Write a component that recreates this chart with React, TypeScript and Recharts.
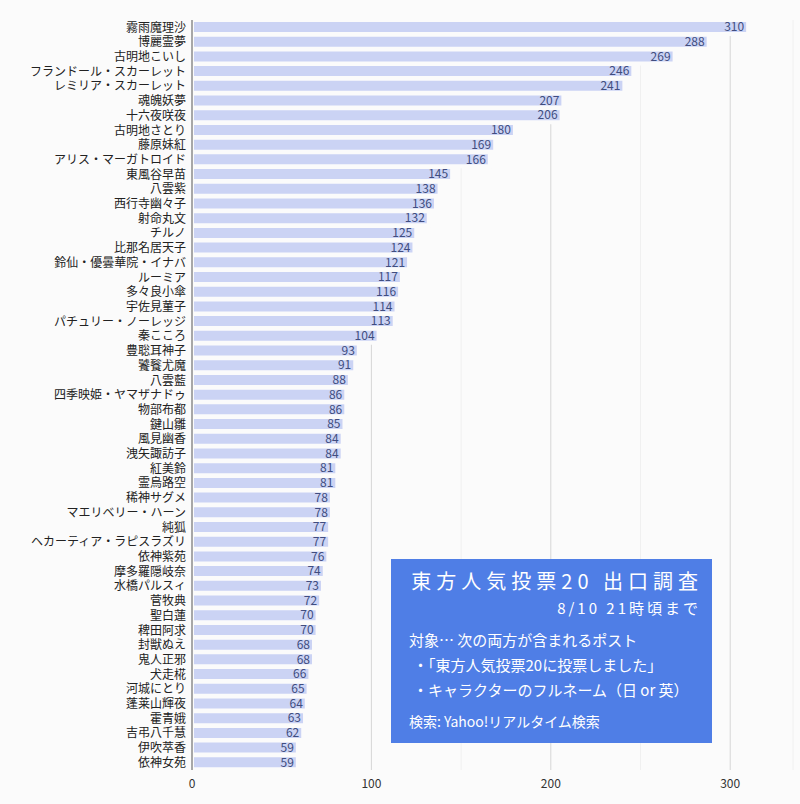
import React from 'react';
import { BarChart, Bar, XAxis, YAxis, CartesianGrid, LabelList } from 'recharts';

const names = [
  '霧雨魔理沙', '博麗霊夢', '古明地こいし', 'フランドール・スカーレット', 'レミリア・スカーレット',
  '魂魄妖夢', '十六夜咲夜', '古明地さとり', '藤原妹紅', 'アリス・マーガトロイド',
  '東風谷早苗', '八雲紫', '西行寺幽々子', '射命丸文', 'チルノ',
  '比那名居天子', '鈴仙・優曇華院・イナバ', 'ルーミア', '多々良小傘', '宇佐見菫子',
  'パチュリー・ノーレッジ', '秦こころ', '豊聡耳神子', '饕餮尤魔', '八雲藍',
  '四季映姫・ヤマザナドゥ', '物部布都', '鍵山雛', '風見幽香', '洩矢諏訪子',
  '紅美鈴', '霊烏路空', '稀神サグメ', 'マエリベリー・ハーン', '純狐',
  'ヘカーティア・ラピスラズリ', '依神紫苑', '摩多羅隠岐奈', '水橋パルスィ', '菅牧典',
  '聖白蓮', '稗田阿求', '封獣ぬえ', '鬼人正邪', '犬走椛',
  '河城にとり', '蓬莱山輝夜', '霍青娥', '吉弔八千慧', '伊吹萃香',
  '依神女苑',
];

const votes = [
  310, 288, 269, 246, 241,
  207, 206, 180, 169, 166,
  145, 138, 136, 132, 125,
  124, 121, 117, 116, 114,
  113, 104, 93, 91, 88,
  86, 86, 85, 84, 84,
  81, 81, 78, 78, 77,
  77, 76, 74, 73, 72,
  70, 70, 68, 68, 66,
  65, 64, 63, 62, 59,
  59,
];

const xTicks = [0, 50, 100, 150, 200, 250, 300];
const xDomain = [0, 335];

const titleText = '東方人気投票20 出口調査';
const subtitleText = '8/10 21時頃まで';
const bodyLines = [
  '対象… 次の両方が含まれるポスト',
  '・「東方人気投票20に投票しました」',
  '・キャラクターのフルネーム（日 or 英）',
];
const sourceText = '検索: Yahoo!リアルタイム検索';

const data = names.map((name, i) => ({ name, value: votes[i] }));

const BG = '#fbfbfb';
const FONT = '"Noto Sans CJK JP", "Noto Sans", sans-serif';

const GridLine = (props: any) => {
  const { x1, y1, x2, y2, index } = props;
  if (index === 0) return <g />;
  const major = index % 2 === 0;
  return (
    <line
      x1={x1}
      y1={y1}
      x2={x2}
      y2={y2}
      stroke={major ? '#d6d6d6' : '#f0f0f0'}
      strokeWidth={1}
    />
  );
};

const XTick = (props: any) => {
  const { x, y, payload } = props;
  if (payload.value % 100 !== 0) return <g />;
  return (
    <text x={x} y={y} dy={10} textAnchor="middle" fontSize={12} fill="#333" fontFamily={FONT}>
      {payload.value}
    </text>
  );
};

export default function App() {
  return (
    <div
      style={{
        position: 'absolute',
        left: 0,
        top: 0,
        width: 800,
        height: 804,
        background: BG,
        fontFamily: FONT,
      }}
    >
      <BarChart
        width={800}
        height={804}
        data={data}
        layout="vertical"
        margin={{ top: 20, right: 7, bottom: 4, left: 0 }}
        barCategoryGap={0}
      >
        <CartesianGrid horizontal={false} vertical={GridLine as any} />
        <XAxis
          type="number"
          domain={xDomain}
          ticks={xTicks}
          axisLine={false}
          tickLine={false}
          height={30}
          tick={<XTick />}
        />
        <Bar
          dataKey="value"
          fill="#cbd3f4"
          stroke={BG}
          strokeWidth={4}
          barSize={14}
          isAnimationActive={false}
        >
          <LabelList
            dataKey="value"
            position="insideRight"
            offset={4}
            fill="#404d80"
            fontSize={12}
            fontFamily={FONT}
          />
        </Bar>
        <YAxis
          type="category"
          dataKey="name"
          width={192}
          interval={0}
          tickLine={false}
          tickSize={4}
          tickMargin={2}
          axisLine={{ stroke: '#555', strokeWidth: 1 }}
          tick={{ fontSize: 12, fill: '#222', fontFamily: FONT }}
        />
      </BarChart>
      <div
        style={{
          position: 'absolute',
          left: 391,
          top: 559,
          width: 321,
          height: 184,
          background: '#4f7ee6',
          color: '#fff',
          boxSizing: 'border-box',
          padding: '8px 14px 0 18px',
        }}
      >
        <div
          style={{
            fontSize: 20,
            letterSpacing: 5,
            textAlign: 'right',
            lineHeight: '28px',
            fontWeight: 400,
            whiteSpace: 'nowrap',
            marginRight: -5,
          }}
        >
          {titleText}
        </div>
        <div
          style={{
            fontSize: 15,
            letterSpacing: 3,
            textAlign: 'right',
            lineHeight: '22px',
            marginTop: 2,
            marginRight: -3,
            whiteSpace: 'nowrap',
          }}
        >
          {subtitleText}
        </div>
        <div style={{ marginTop: 8, fontSize: 15, lineHeight: '25px', whiteSpace: 'nowrap' }}>
          <div>{bodyLines[0]}</div>
          <div style={{ paddingLeft: 4 }}>{bodyLines[1]}</div>
          <div style={{ paddingLeft: 4 }}>{bodyLines[2]}</div>
        </div>
        <div style={{ marginTop: 9, fontSize: 14, lineHeight: '20px', whiteSpace: 'nowrap' }}>
          {sourceText}
        </div>
      </div>
    </div>
  );
}
